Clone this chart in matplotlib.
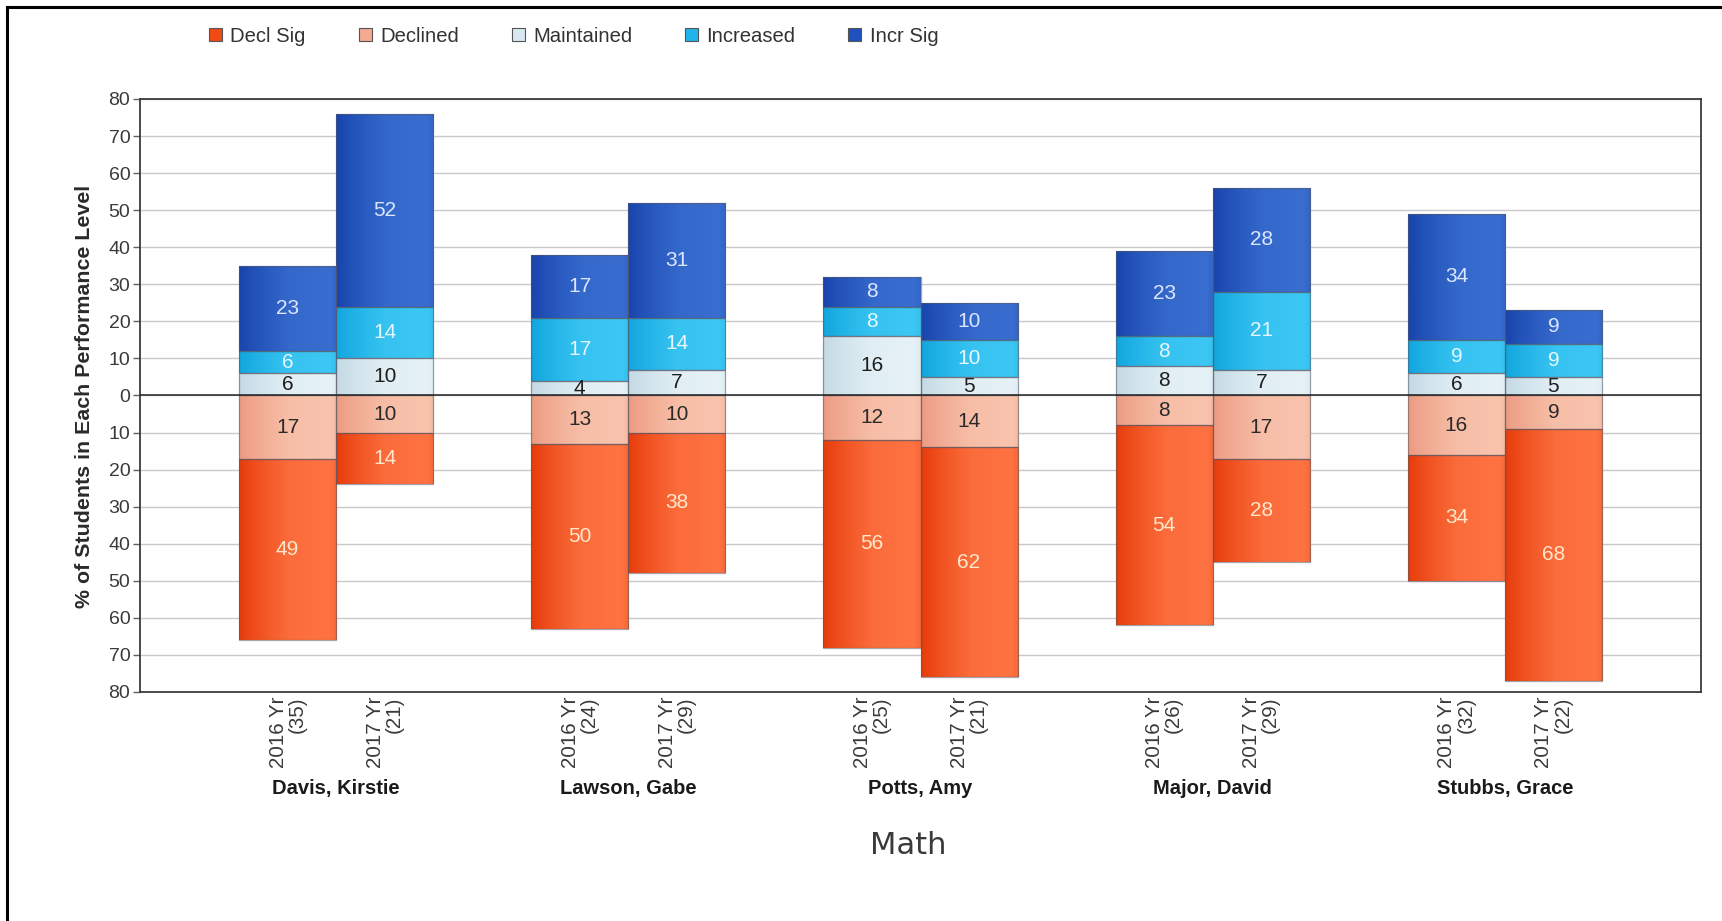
import numpy as np
import matplotlib
matplotlib.use("Agg")
import matplotlib.pyplot as plt
from matplotlib.patches import Patch
from matplotlib.colors import to_rgb

plt.rcParams['font.family'] = ['Liberation Sans', 'DejaVu Sans']

# ---- data ----
teachers = ["Davis, Kirstie", "Lawson, Gabe", "Potts, Amy", "Major, David", "Stubbs, Grace"]
years = ["2016 Yr", "2017 Yr"]
counts = [[35, 21], [24, 29], [25, 21], [26, 29], [32, 22]]
series = ["Decl Sig", "Declined", "Maintained", "Increased", "Incr Sig"]
decl_sig   = [[49, 14], [50, 38], [56, 62], [54, 28], [34, 68]]
declined   = [[17, 10], [13, 10], [12, 14], [8, 17], [16, 9]]
maintained = [[6, 10], [4, 7], [16, 5], [8, 7], [6, 5]]
increased  = [[6, 14], [17, 14], [8, 10], [8, 21], [9, 9]]
incr_sig   = [[23, 52], [17, 31], [8, 10], [23, 28], [34, 9]]
subject = "Math"
y_label = "% of Students in Each Performance Level"

# ---- style ----
grad = {
    "Decl Sig":   ("#E63A08", "#FF7444"),
    "Declined":   ("#EC9A80", "#F9C4AE"),
    "Maintained": ("#C3D9E4", "#E6F2F7"),
    "Increased":  ("#0FA5DE", "#3DC8F4"),
    "Incr Sig":   ("#1643AC", "#3A6ED0"),
}
legend_col = {
    "Decl Sig": "#F04A15", "Declined": "#F4AA92", "Maintained": "#D8E8F0",
    "Increased": "#20B5EA", "Incr Sig": "#1F52BC",
}
txt_col = {
    "Decl Sig": "#FFE8CC", "Declined": "#2A2A2A", "Maintained": "#1E1E1E",
    "Increased": "#E6F7FF", "Incr Sig": "#DCE6FF",
}

W, H = 1722, 921
fig = plt.figure(figsize=(W / 100, H / 100), dpi=100)
ax = fig.add_axes([140 / W, 1 - 692 / H, (1701 - 140) / W, (692 - 99) / H])

n = len(teachers)
bw = 0.332
pos = []
for g in range(n):
    pos += [g - bw / 2, g + bw / 2]
pos = np.array(pos)

def flat(a):
    return np.array(a, dtype=float).ravel()

D = flat(declined); DS = flat(decl_sig)
M = flat(maintained); I = flat(increased); IS = flat(incr_sig)

stacks = [
    ("Declined", -D, np.zeros_like(D), D),
    ("Decl Sig", -DS, -D, DS),
    ("Maintained", M, np.zeros_like(M), M),
    ("Increased", I, M, I),
    ("Incr Sig", IS, M + I, IS),
]

def gradient_img(c1, c2, nx=96):
    a = np.array(to_rgb(c1)); b = np.array(to_rgb(c2))
    t = np.linspace(0, 1, nx)
    s = np.clip(t * 1.6, 0, 1) ** 0.8
    s = np.where(t > 0.5, np.clip(0.85 + (t - 0.5) * 0.3, 0, 1), s)
    s = np.where(t > 0.93, s - (t - 0.93) * 3.0, s)
    row = a[None, :] + (b - a)[None, :] * s[:, None]
    return np.clip(row[None, :, :], 0, 1)

for name, heights, bottoms, vals in stacks:
    bars = ax.bar(pos, heights, bw, bottom=bottoms, facecolor='none',
                  edgecolor=(0.35, 0.35, 0.4, 0.55), linewidth=0.9, zorder=4)
    img = gradient_img(*grad[name])
    for p, v in zip(bars.patches, vals):
        x0 = p.get_x(); y0 = p.get_y()
        x1 = x0 + p.get_width(); y1 = y0 + p.get_height()
        im = ax.imshow(img, extent=(x0, x1, min(y0, y1), max(y0, y1)),
                       aspect='auto', interpolation='bilinear', zorder=3)
        im.set_clip_path(p)
        ax.text(p.get_x() + p.get_width() / 2, y0 + p.get_height() / 2,
                f"{int(v)}", ha='center', va='center', fontsize=15,
                color=txt_col[name], zorder=5)

ax.set_xlim(-0.671, n - 1 + 0.671)
ax.set_ylim(-80, 80)
ticks = np.arange(-80, 81, 10)
ax.set_yticks(ticks)
ax.set_yticklabels([str(abs(t)) for t in ticks], fontsize=14, color='#3A3A3A')
ax.tick_params(axis='y', length=5, width=1, color='#606060', pad=2)
ax.yaxis.grid(True, color='#C9C9C9', linewidth=1.0, zorder=0)
ax.set_axisbelow(True)
ax.axhline(0, color='#222222', linewidth=1.1, zorder=4.5)
for s in ax.spines.values():
    s.set_color('#3C3C3C'); s.set_linewidth(1.3)

xlabels = [f"{years[k]}\n({counts[g][k]})" for g in range(n) for k in range(2)]
ax.set_xticks(pos)
ax.set_xticklabels(xlabels, rotation=90, fontsize=14.8, color='#3A3A3A',
                   va='top', ha='center', multialignment='right', linespacing=1.0)
ax.tick_params(axis='x', length=0, pad=3)

trans = ax.get_xaxis_transform()
for g, t in enumerate(teachers):
    ax.text(g, -0.162, t, transform=trans, ha='center', va='center',
            fontsize=14.5, fontweight='bold', color='#1A1A1A')

fig.text(908 / W, 1 - 845 / H, subject, ha='center', va='center', fontsize=22,
         family='DejaVu Sans', color='#3A3A3A')
fig.text(85 / W, 1 - 396 / H, y_label, rotation=90, ha='center', va='center',
         fontsize=15.4, fontweight='bold', color='#2A2A2A')

handles = [Patch(facecolor=legend_col[s], edgecolor='#555555', linewidth=0.8) for s in series]
fig.legend(handles, series, loc='center left', bbox_to_anchor=(209 / W, 1 - 36 / H),
           ncol=5, frameon=False, fontsize=14.6, handlelength=0.64, handleheight=0.64,
           handletextpad=0.42, columnspacing=2.6, borderpad=0, borderaxespad=0,
           labelcolor='#333333')

# outer frame (top and left edges)
fig.add_artist(plt.Line2D([7 / W, 1], [1 - 7 / H, 1 - 7 / H], color='black', lw=2.2))
fig.add_artist(plt.Line2D([7 / W, 7 / W], [0, 1 - 7 / H], color='black', lw=2.2))

fig.savefig("out.png", dpi=100)
